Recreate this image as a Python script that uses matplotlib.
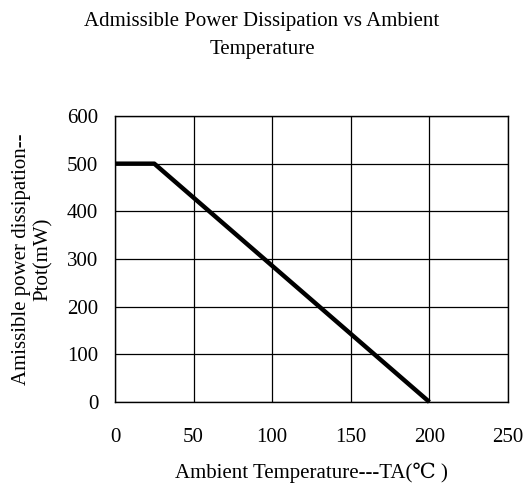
import matplotlib
matplotlib.use("Agg")
import matplotlib.pyplot as plt

# data
temp_c = [0, 25, 200]
power_mw = [500, 500, 0]
x_ticks = [0, 50, 100, 150, 200, 250]
y_ticks = [0, 100, 200, 300, 400, 500, 600]

plt.rcParams['font.family'] = ['Liberation Serif', 'DejaVu Serif', 'Noto Sans CJK TC']

fig = plt.figure(figsize=(5.24, 4.86), dpi=100)
ax = fig.add_axes([0.2195, 0.1728, 0.75, 0.5885])

ax.plot(temp_c, power_mw, color="black", linewidth=3.2, solid_capstyle="butt", clip_on=False, zorder=3)

ax.set_xlim(0, 250)
ax.set_ylim(0, 600)
ax.set_xticks(x_ticks)
ax.set_yticks(y_ticks)
ax.tick_params(length=0, labelsize=15, pad=12)
ax.tick_params(axis="x", pad=19)
ax.grid(True, color="black", linewidth=0.9)
for s in ax.spines.values():
    s.set_color("black")
    s.set_linewidth(1.0)

ax.set_xlabel("Ambient Temperature---TA(℃ )", fontsize=15, labelpad=11)
ax.set_ylabel("Amissible power dissipation--\nPtot(mW)", fontsize=15, labelpad=10)
fig.text(0.5, 0.975, "Admissible Power Dissipation vs Ambient\nTemperature",
         ha="center", va="top", fontsize=15, linespacing=1.6)

fig.savefig("out.png", dpi=100)
